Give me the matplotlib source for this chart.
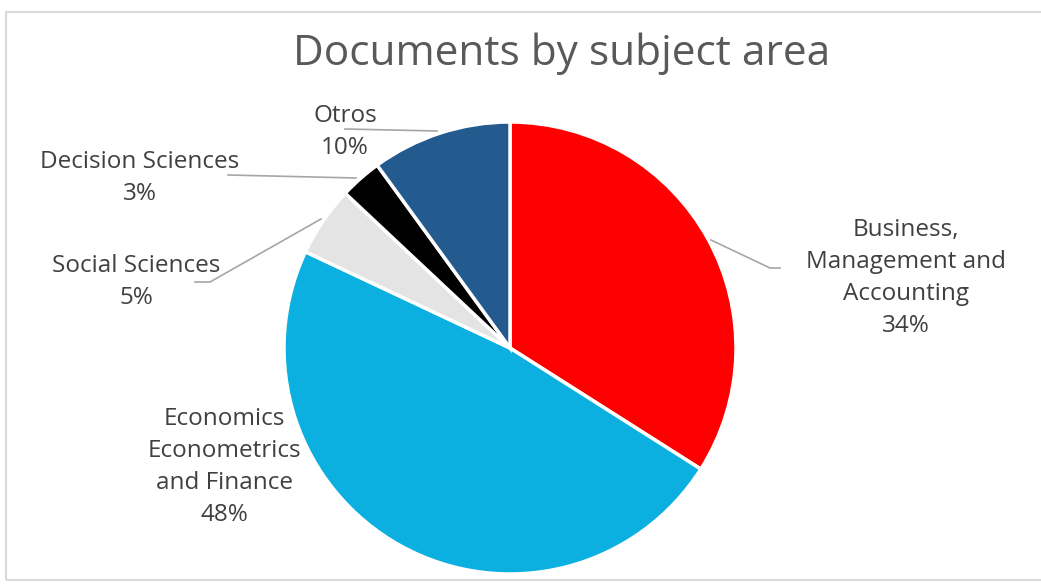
import matplotlib.pyplot as plt
from matplotlib.patches import Rectangle

# data
labels = ["Business,\nManagement and\nAccounting", "Economics\nEconometrics\nand Finance",
          "Social Sciences", "Decision Sciences", "Otros"]
shares = [34, 48, 5, 3, 10]
colors = ["#FF0000", "#0BB0E0", "#E4E4E4", "#000000", "#245B8F"]

W, H = 1041, 585
fig = plt.figure(figsize=(W / 100, H / 100), dpi=100)
ax = fig.add_axes([0, 0, 1, 1])

# frame around chart area (pixel coords, y up)
ax.add_patch(Rectangle((6, 5), W, H - 17, fill=False, edgecolor="#D9D9D9", lw=1.5))

cx, cy, r = 510, H - 348, 226
wedges, _ = ax.pie(shares, colors=colors, startangle=90, counterclock=False,
                   center=(cx, cy), radius=r, frame=True,
                   wedgeprops=dict(edgecolor="white", linewidth=2.5))
ax.set_xlim(0, W)
ax.set_ylim(0, H)
ax.set_aspect("equal")
ax.axis("off")

def y(py):
    return H - py

ax.text(562, y(65), "Documents by subject area", ha="center", va="baseline",
        fontsize=30.5, color="#595959", family="Open Sans")

txt = dict(ha="center", va="center", fontsize=17.5, color="#404040", family="Open Sans",
           linespacing=1.46)
line = dict(color="#A6A6A6", lw=1.2)

# label positions (pixel) and leader lines
ax.text(906, y(278), labels[0] + "\n34%", **txt)
ax.plot([711, 770, 780], [y(240), y(268), y(268)], **line)

ax.text(224, y(467), labels[1] + "\n48%", **txt)

ax.text(136, y(282), labels[2] + "\n5%", **txt)
ax.plot([321, 210, 195], [y(219), y(282), y(282)], **line)

ax.text(140, y(178), labels[3] + "\n3%", **txt)
ax.plot([356, 228], [y(178), y(175)], **line)

ax.text(345, y(132), labels[4] + "\n10%", **txt)
ax.plot([345, 437], [y(129), y(131)], **line)

fig.savefig("out.png", dpi=100)
